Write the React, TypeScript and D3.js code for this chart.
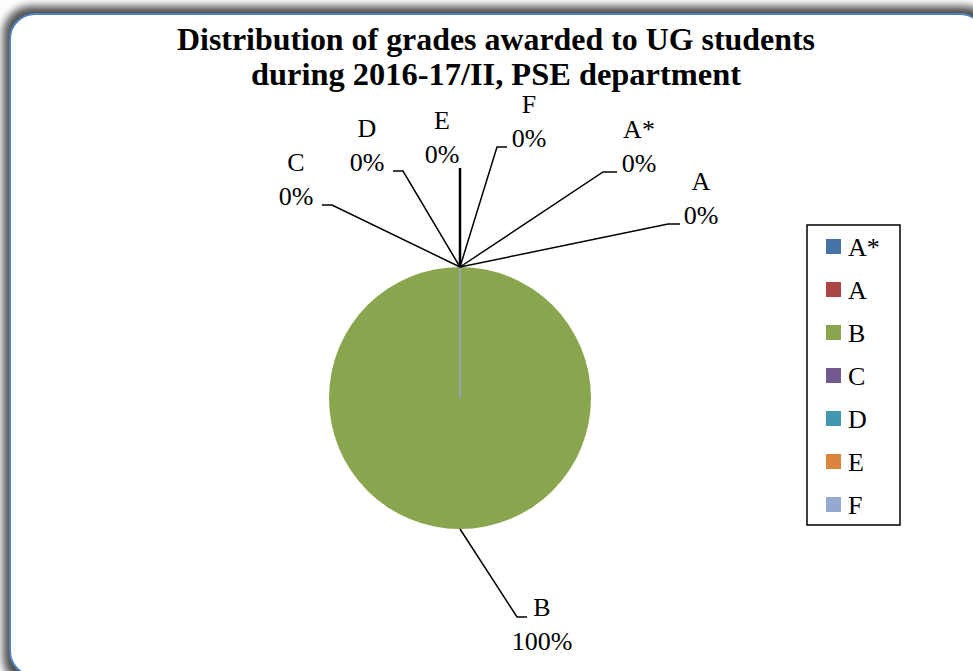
import React from 'react';
import * as d3 from 'd3';

// grades and their share (%) for 2016-17/II
const grades = ['A*', 'A', 'B', 'C', 'D', 'E', 'F'];
const shares = [0, 0, 100, 0, 0, 0, 0];
const colors = ['#4572A7', '#AA4643', '#89A54E', '#71588F', '#4198AF', '#DB843D', '#93A9CF'];
const titleLines = ['Distribution of grades awarded to UG students', 'during 2016-17/II, PSE department'];

// manual label placement (Excel best-fit), relative to each slice anchor
const leaderLayout: Record<string, { ex: number; ey: number; tail: number; tx: number; ty: number }> = {
    'A*': { ex: 143, ey: -95, tail: 14, tx: 22, ty: -34 },
    'A': { ex: 208, ey: -43, tail: 12, tx: 21, ty: -34 },
    'B': { ex: 57, ey: 88, tail: 10, tx: 15, ty: -1 },
    'C': { ex: -128, ey: -62, tail: -10, tx: -26, ty: -34 },
    'D': { ex: -57, ey: -96, tail: -10, tx: -26, ty: -34 },
    'E': { ex: 0, ey: -99, tail: 0, tx: -18, ty: -39 },
    'F': { ex: 37, ey: -120, tail: 10, tx: 22, ty: -34 },
};

const W = 973;
const H = 671;

export default function App() {
    const svgRef = React.useRef<SVGSVGElement>(null);

    React.useEffect(() => {
        const svg = d3.select(svgRef.current);
        svg.selectAll('*').remove();
        const font = '"Liberation Serif", "Times New Roman", serif';

        const defs = svg.append('defs');
        const f = defs.append('filter').attr('id', 'shadow')
            .attr('x', '-10%').attr('y', '-10%').attr('width', '120%').attr('height', '120%');
        f.append('feGaussianBlur').attr('stdDeviation', 4.5);

        // frame + shadow
        svg.append('rect')
            .attr('x', 3).attr('y', 6).attr('width', 990).attr('height', 680).attr('rx', 28)
            .attr('fill', '#505050').attr('filter', 'url(#shadow)');
        svg.append('rect')
            .attr('x', 10).attr('y', 14).attr('width', 975).attr('height', 662).attr('rx', 25)
            .attr('fill', '#fff').attr('stroke', '#4F81BD').attr('stroke-width', 2);

        // title
        const titleWidths = [638, 490];
        svg.append('g').selectAll('text').data(titleLines).join('text')
            .attr('x', 496).attr('y', (_, i) => 50 + i * 35)
            .attr('text-anchor', 'middle')
            .attr('font-family', font).attr('font-weight', 'bold').attr('font-size', 31)
            .attr('textLength', (_, i) => titleWidths[i]).attr('lengthAdjust', 'spacingAndGlyphs')
            .text(d => d);

        // pie
        const cx = 460, cy = 398, r = 131;
        const data = grades.map((g, i) => ({ grade: g, value: shares[i], color: colors[i] }));
        const pie = d3.pie<any>().value(d => d.value).sort(null);
        const arcs = pie(data);
        const arc = d3.arc<any>().innerRadius(0).outerRadius(r);
        const g = svg.append('g').attr('transform', `translate(${cx},${cy})`);
        g.selectAll('path').data(arcs).join('path')
            .attr('d', arc as any)
            .attr('fill', d => d.data.color)
            .attr('stroke', d => (d.data.value === 0 ? d.data.color : 'none'))
            .attr('stroke-width', 1.5);

        // leader lines and labels
        const lbl = svg.append('g');
        arcs.forEach(a => {
            const mid = (a.startAngle + a.endAngle) / 2;
            const ax = cx + r * Math.sin(mid);
            const ay = cy - r * Math.cos(mid);
            const L = leaderLayout[a.data.grade];
            const exx = ax + L.ex, eyy = ay + L.ey;
            const pts: [number, number][] = [[ax, ay], [exx, eyy], [exx + L.tail, eyy]];
            lbl.append('path')
                .attr('d', d3.line()(pts))
                .attr('fill', 'none').attr('stroke', '#000')
                .attr('stroke-width', a.data.grade === 'E' ? 2.5 : 1.5);
            const tx = exx + L.tail + L.tx, ty = eyy + L.ty;
            const t = lbl.append('text').attr('text-anchor', 'middle')
                .attr('font-family', font).attr('font-size', 26);
            t.append('tspan').attr('x', tx).attr('y', ty).text(a.data.grade);
            t.append('tspan').attr('x', tx).attr('y', ty + 33.5).text(`${d3.format('.0f')(a.data.value)}%`);
        });

        // legend
        const leg = svg.append('g');
        leg.append('rect').attr('x', 807).attr('y', 225).attr('width', 93).attr('height', 300)
            .attr('fill', '#fff').attr('stroke', '#000').attr('stroke-width', 1.5);
        const items = leg.selectAll('g.item').data(data).join('g').attr('class', 'item')
            .attr('transform', (_, i) => `translate(826,${239 + i * 43})`);
        items.append('rect').attr('width', 15).attr('height', 15).attr('fill', d => d.color);
        items.append('text').attr('x', 22).attr('y', 17)
            .attr('font-family', font).attr('font-size', 26).text(d => d.grade);
    }, []);

    return (
        <svg ref={svgRef} width={W} height={H}
            style={{ position: 'absolute', left: 0, top: 0, background: '#fff' }} />
    );
}
